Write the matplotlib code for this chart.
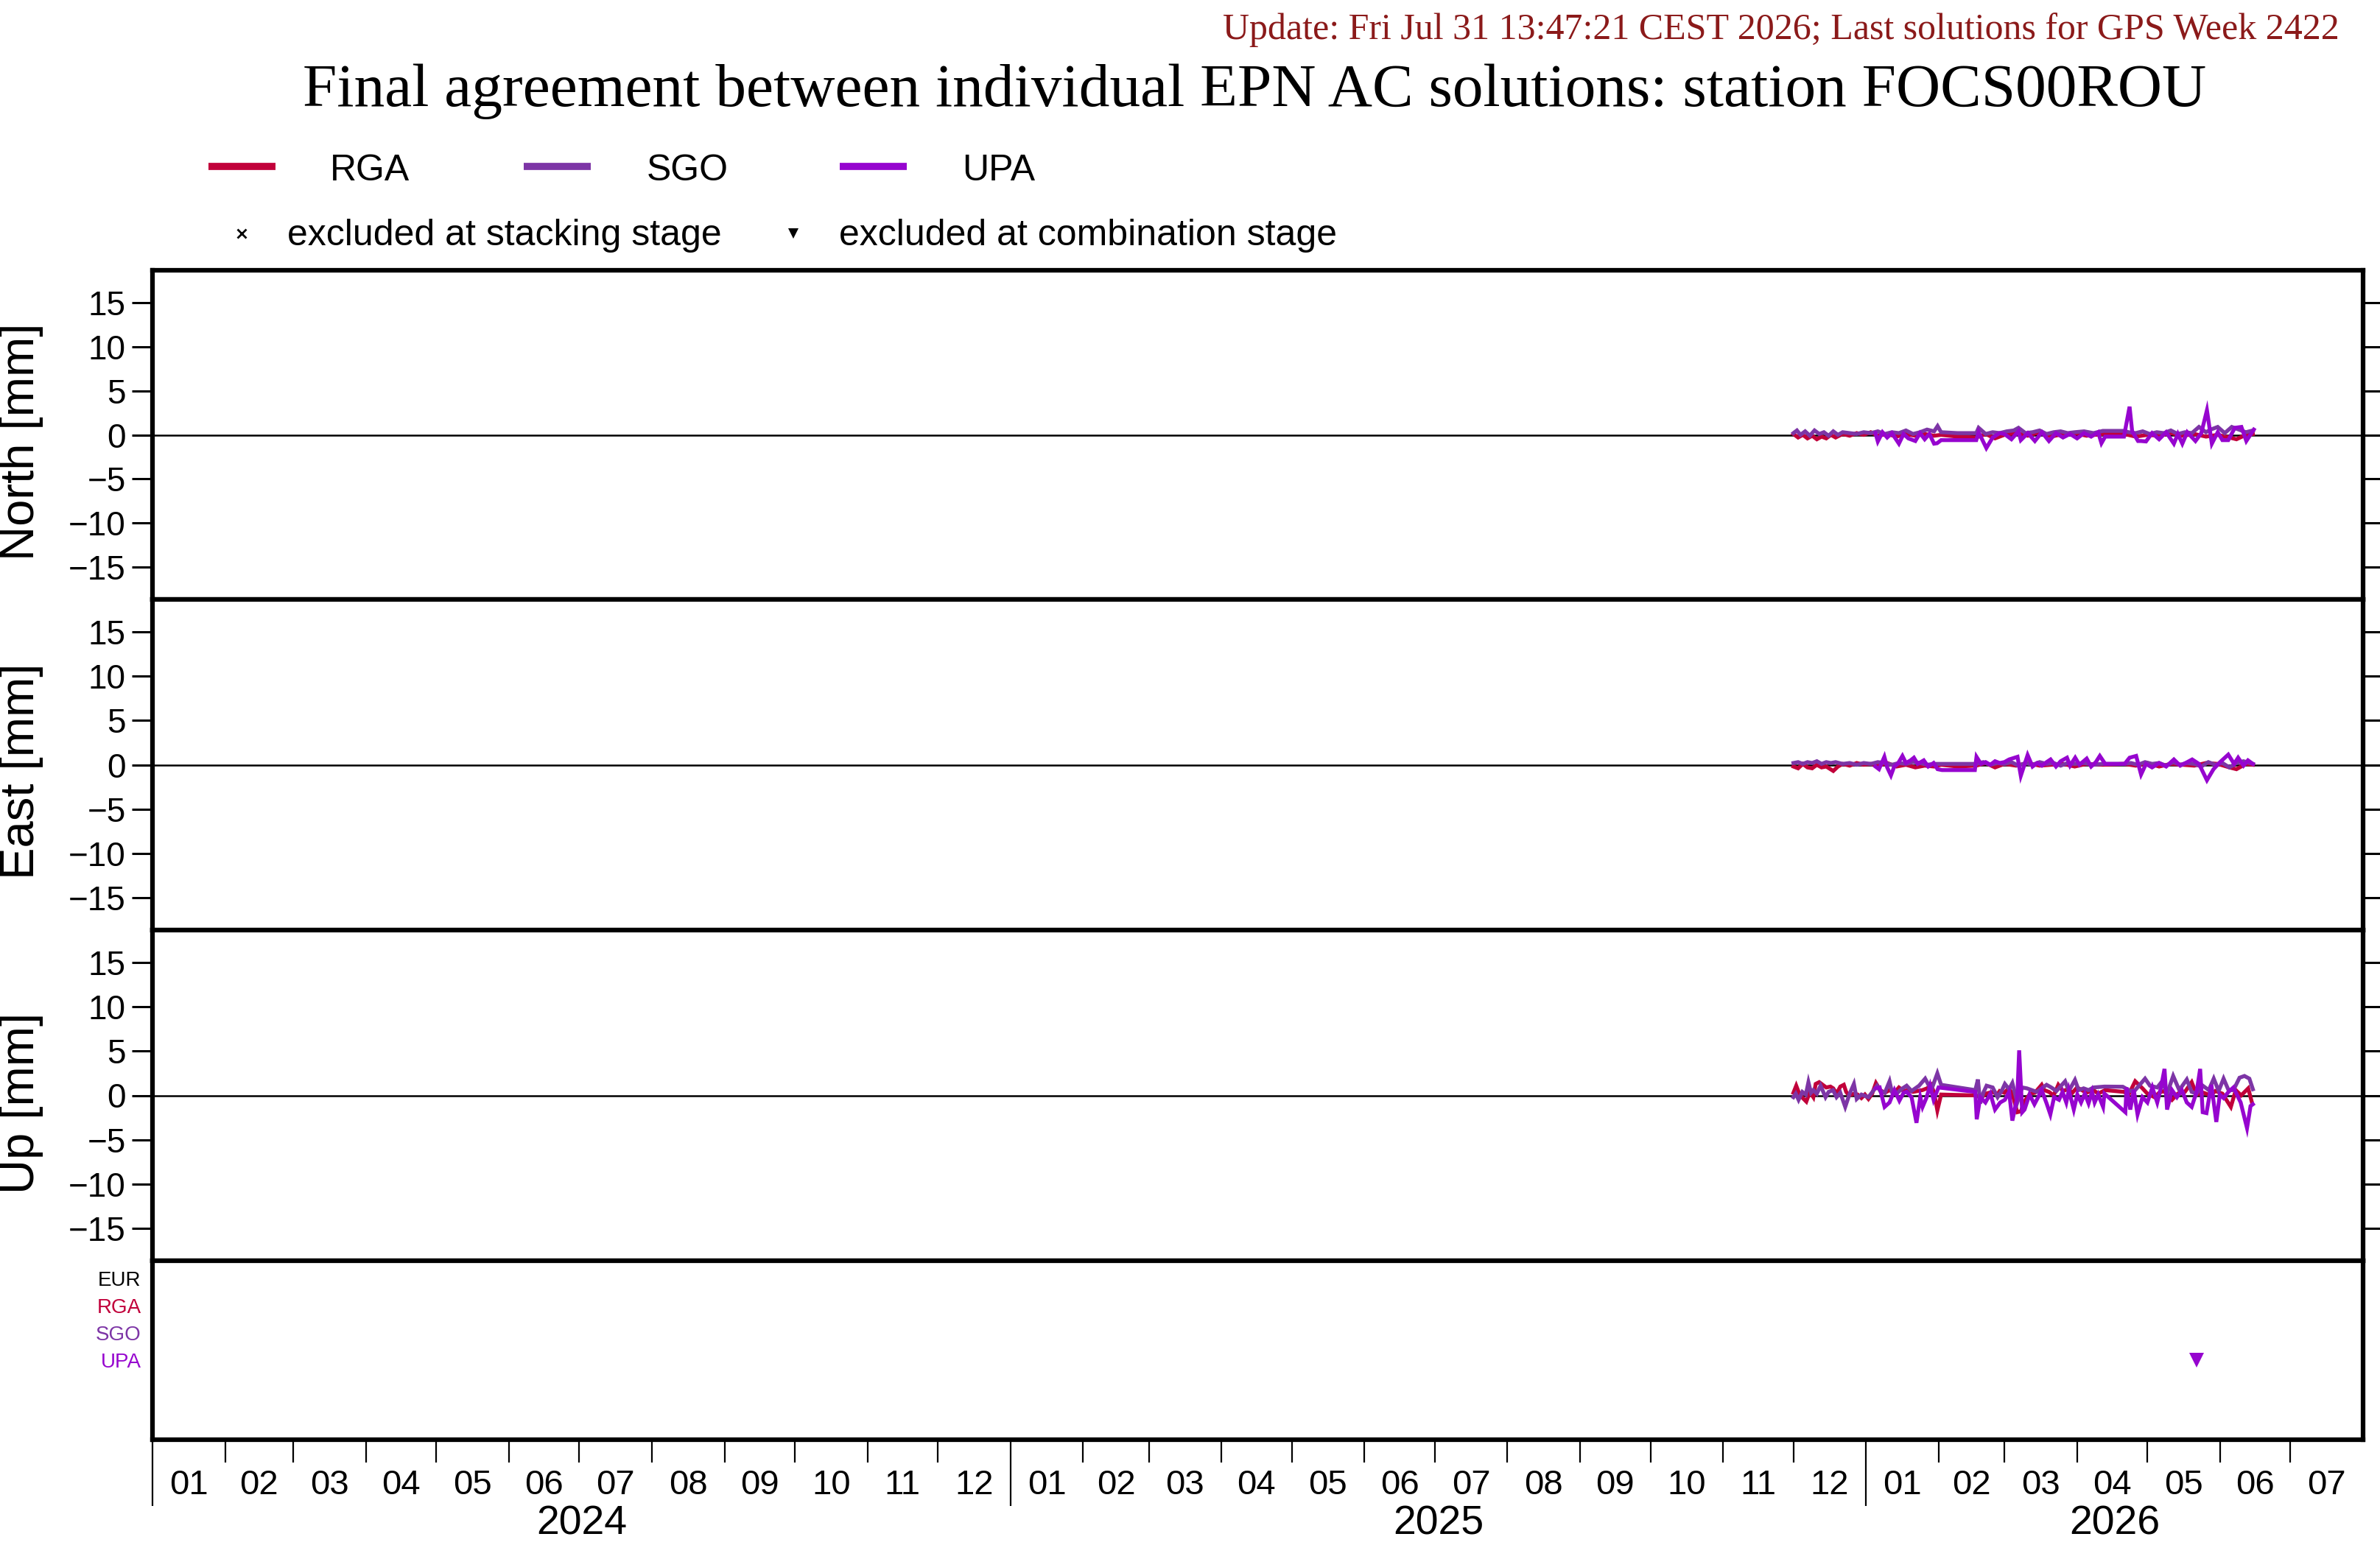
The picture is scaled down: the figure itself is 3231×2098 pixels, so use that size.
import numpy as np
import matplotlib
matplotlib.use("Agg")
import matplotlib.pyplot as plt
import matplotlib.dates as mdates
from matplotlib.lines import Line2D

plt.rcParams["font.family"] = ["Liberation Sans", "DejaVu Sans"]

# === Data (days counted from 2025-12-01, values in mm) ===
start_day = "2025-12-01"
ac_names = ["RGA", "SGO", "UPA"]
ac_colors = ["#C1003A", "#7D35A6", "#9605CF"]

north_rga_days = [0, 2, 4, 6, 8, 10, 12, 14, 16, 18,
                  21, 24, 27, 30, 33, 36, 40, 44, 48, 52,
                  56, 60, 63, 70, 78, 82, 86, 90, 95, 100,
                  105, 110, 115, 120, 125, 132, 141, 146, 151, 156,
                  161, 166, 171, 176, 181, 186, 189, 193, 196]
north_rga = [0.1, -0.3, 0.0, -0.4, -0.1, -0.5, -0.2, -0.4, 0.0, -0.3,
             0.1, -0.1, 0.2, 0.0, 0.3, -0.1, 0.1, -0.2, 0.1, -0.1,
             0.1, -0.1, 0.0, -0.2, -0.3, 0.1, -0.4, 0.0, 0.2, -0.1,
             0.3, -0.2, 0.1, 0.2, -0.1, 0.1, 0.1, -0.2, 0.0, -0.1,
             0.2, -0.1, 0.1, -0.2, 0.0, -0.3, -0.5, 0.0, 0.1]

north_sgo_days = [0, 1.5, 3, 5, 7, 9, 11, 13, 15, 17,
                  19, 21, 24, 27, 30, 33, 36, 39, 42, 45,
                  48, 51, 54, 57, 60, 61.5, 63, 70, 78, 79,
                  82, 85, 88, 91, 94, 96, 99, 102, 105, 108,
                  111, 114, 117, 120, 124, 128, 132, 137, 141, 143,
                  146, 149, 152, 155, 158, 161, 164, 167, 170, 173,
                  176, 178, 181, 184, 187, 190, 193, 196]
north_sgo = [0.2, 0.5, 0.0, 0.4, -0.1, 0.5, 0.1, 0.3, -0.1, 0.4,
             0.0, 0.3, 0.2, 0.1, 0.3, 0.2, 0.4, 0.1, 0.3, 0.2,
             0.5, 0.1, 0.3, 0.6, 0.4, 1.0, 0.3, 0.2, 0.2, 0.8,
             0.1, 0.3, 0.2, 0.4, 0.5, 0.8, 0.2, 0.3, 0.5, 0.1,
             0.3, 0.4, 0.2, 0.3, 0.4, 0.2, 0.45, 0.45, 0.45, 0.3,
             0.2, 0.4, 0.1, 0.3, 0.2, 0.5, 0.1, 0.3, 0.2, 0.9,
             0.3, 0.6, 0.9, 0.2, 0.9, 0.6, 0.3, 0.5]

north_upa_days = [35, 36, 38, 40, 42, 45, 47, 49, 52, 54,
                  56, 58, 60, 61.3, 63, 66, 70, 78, 79, 82.3,
                  85, 88, 90, 93, 96, 97, 100, 103, 106, 109,
                  112, 115, 118, 121, 124, 127, 130, 131.4, 133, 141,
                  143.4, 144.5, 147, 148.3, 150.4, 153, 156, 159, 162.3, 164,
                  165.9, 168, 171.5, 174, 176.4, 178.5, 181, 183, 185.5, 188.3,
                  191.1, 193.2, 196.4]
north_upa = [0.2, -0.75, 0.3, -0.3, 0.2, -1.0, 0.1, -0.4, -0.7, 0.2,
             -0.5, 0.1, -1.0, -0.95, -0.6, -0.6, -0.6, -0.6, 0.3, -1.5,
             -0.3, 0.2, 0.1, -0.5, 0.4, -0.6, 0.2, -0.7, 0.3, -0.7,
             0.2, -0.3, 0.1, -0.4, 0.2, -0.2, 0.3, -0.95, -0.2, -0.2,
             3.2, 0.4, -0.7, -0.7, -0.75, 0.2, -0.5, 0.3, -1.0, 0.1,
             -1.0, 0.3, -0.7, 0.2, 2.8, -1.0, 0.3, -0.6, -0.6, 0.8,
             0.9, -0.7, 0.6]

east_rga_days = [0, 2, 4, 6, 8, 10, 12, 14, 17, 19,
                 21, 24, 27, 30, 33, 36, 40, 44, 48, 52,
                 56, 60, 63, 70, 78, 82, 86, 90, 95, 100,
                 105, 110, 115, 120, 125, 132, 141, 146, 151, 156,
                 161, 166, 171, 176, 181, 186, 189, 193, 196]
east_rga = [-0.2, -0.4, 0.1, -0.3, -0.4, 0.0, -0.3, -0.2, -0.7, -0.2,
            0.1, -0.1, 0.2, 0.0, 0.1, -0.1, 0.2, -0.2, 0.0, -0.3,
            -0.1, -0.2, 0.0, -0.2, -0.1, 0.2, -0.3, 0.1, -0.1, 0.2,
            -0.1, 0.0, 0.1, -0.2, 0.1, 0.0, 0.1, -0.1, 0.2, -0.2,
            0.1, 0.0, -0.1, 0.2, 0.1, -0.3, -0.5, 0.1, 0.0]

east_sgo_days = [0, 2, 4, 6, 8, 10, 12, 14, 16, 18,
                 21, 24, 27, 30, 33, 36, 39, 42, 45, 48,
                 51, 54, 57, 60, 63, 70, 78, 81, 84, 87,
                 90, 93, 96, 99, 102, 105, 108, 111, 114, 117,
                 120, 124, 128, 132, 137, 141, 144, 147, 150, 153,
                 156, 159, 162, 165, 168, 171, 174, 177, 180, 183,
                 186, 189, 192, 196]
east_sgo = [0.2, 0.3, 0.1, 0.3, 0.2, 0.4, 0.1, 0.3, 0.2, 0.3,
            0.1, 0.2, 0.0, 0.2, 0.1, 0.3, 0.2, 0.0, 0.2, 0.1,
            0.3, 0.2, 0.0, 0.1, 0.1, 0.1, 0.1, 0.3, 0.0, 0.2,
            0.1, 0.3, -0.1, 0.2, 0.0, 0.3, 0.1, 0.2, -0.1, 0.2,
            0.1, 0.2, 0.0, 0.1, 0.1, 0.1, 0.2, 0.0, 0.3, 0.1,
            0.2, -0.1, 0.3, 0.0, 0.2, 0.1, -0.2, 0.3, 0.0, 0.2,
            -0.3, 0.2, 0.4, 0.1]

east_upa_days = [35, 36.5, 38.8, 40, 41.6, 43, 44.5, 46.5, 48, 50,
                 51.4, 53, 55.6, 57.5, 59.8, 61.5, 63.4, 66.2, 77.4, 78.1,
                 80, 82, 84, 86, 88, 90, 92, 95.6, 97, 99.9,
                 102, 104, 106, 108, 109.7, 112, 114, 116.7, 118, 120.2,
                 122, 125.1, 127, 129, 130.7, 133, 141.3, 143.4, 146.2, 148.3,
                 150.4, 153, 156, 159, 162.3, 165, 168, 170.1, 173, 176.4,
                 179.2, 182, 185.5, 188, 189.7, 192, 193.9, 196]
east_upa = [-0.2, -0.5, 0.9, -0.3, -1.2, -0.2, 0.1, 1.0, 0.2, 0.5,
            0.8, 0.1, 0.5, -0.2, 0.2, -0.5, -0.6, -0.6, -0.6, 0.9,
            0.1, 0.3, 0.0, 0.4, 0.2, 0.3, 0.6, 0.9, -1.25, 1.1,
            -0.2, 0.2, -0.1, 0.3, 0.6, -0.2, 0.4, 0.8, -0.1, 0.8,
            0.0, 0.7, -0.2, 0.3, 1.0, 0.1, 0.1, 0.8, 1.0, -1.1,
            0.1, -0.3, 0.2, -0.2, 0.6, -0.1, 0.3, 0.6, 0.1, -1.75,
            -0.5, 0.3, 1.15, 0.1, 0.8, -0.1, 0.5, 0.1]

up_rga_days = [0, 1.2, 2.5, 4, 5.5, 7, 8.5, 9.5, 11, 12.5,
               14, 15.8, 17, 18.4, 20, 21.5, 22.5, 23.7, 26, 27.4,
               29, 30.5, 32, 33.6, 35.2, 37, 39, 41, 43, 45,
               47, 49, 51, 53, 55, 57, 58.8, 60, 61.4, 63,
               78, 80, 82, 85, 87, 88, 90, 91.8, 93.4, 95.5,
               97, 99, 101, 103, 105.9, 107, 109, 111, 113, 115,
               117, 119, 121, 123, 125, 128, 130, 133, 141, 143,
               145.8, 148.9, 151, 154, 156, 158, 161.5, 164, 167, 169.9,
               172, 175, 178, 180, 183, 186.6, 188.7, 191, 194, 195.6]
up_rga = [0.3, 1.1, 0.2, -0.3, -0.7, 0.4, -0.2, 1.3, 1.5, 1.2,
          0.9, 1.0, 0.8, 0.2, 1.0, 1.2, 0.4, 0.0, 0.2, 0.1,
          -0.3, 0.1, -0.4, 0.2, 1.4, 0.6, 0.3, 0.6, 0.3, 0.9,
          0.5, 0.6, 0.4, 0.5, 0.6, 0.8, 1.2, 0.3, -1.7, 0.1,
          0.0, -0.3, 0.2, 0.4, 0.1, 0.5, 0.3, 0.8, 0.2, -1.9,
          -1.8, -0.5, 0.2, 0.3, 1.2, 0.6, 0.4, 0.0, 1.2, 0.5,
          0.7, 0.3, 0.9, 0.6, 0.3, 0.6, 0.2, 0.6, 0.4, 0.1,
          1.6, 0.8, 0.2, -0.2, 0.3, 0.5, -0.5, 0.2, 0.4, 1.5,
          0.1, 0.3, 0.0, 0.5, 0.2, -1.3, 0.6, 0.0, 0.8, -0.8]

up_sgo_days = [0, 1, 2.2, 3.8, 5.3, 6.4, 7.5, 8.5, 10, 11.6,
               13.7, 15, 16.9, 18.4, 20, 22.1, 24, 25.8, 27, 29,
               32, 35.7, 37, 39, 41, 42, 44, 46, 48.3, 50.4,
               52, 53.6, 56.2, 58.8, 61.4, 63, 77.6, 78.7, 79.7, 81,
               82.4, 85, 87.1, 89, 90.2, 92, 93.4, 95.5, 97.6, 99.6,
               101.7, 103.8, 105.9, 108, 110, 112.2, 115.9, 117.5, 120.1, 121.7,
               123.8, 125.9, 128, 132.7, 140.5, 143.7, 145.8, 150, 152.1, 155.2,
               157.3, 159.4, 162, 164.6, 167.8, 169.9, 172, 174.1, 177.2, 179.3,
               181.4, 183.5, 185.6, 187.7, 190.3, 192.4, 194.5, 196]
up_sgo = [-0.2, 0.2, -0.5, 0.4, 0.1, 1.5, 0.3, 0.6, 0.2, 1.1,
          -0.2, 0.4, 0.6, -0.2, 0.3, -1.3, 0.2, 1.3, -0.4, 0.1,
          -0.2, 1.1, 0.5, 0.3, 1.6, 0.4, 0.2, 0.7, 1.1, 0.5,
          0.8, 1.1, 1.9, 0.6, 2.5, 1.2, 0.6, 1.8, -0.9, 0.3,
          1.1, 0.9, -0.2, 0.6, 1.3, 0.7, 1.4, -0.8, 0.9, 0.8,
          0.6, 0.4, 0.8, 1.2, 0.9, 0.5, 1.6, 0.5, 1.75, 0.6,
          0.8, 0.6, 0.9, 1.0, 0.98, 0.5, 0.6, 1.9, 1.1, 0.9,
          1.6, 0.2, 2.2, 0.6, 1.8, 0.4, 0.2, 1.2, 0.6, 1.9,
          0.5, 1.9, 0.6, 0.6, 2.0, 2.2, 1.9, 0.7]

up_upa_days = [35.2, 36.8, 38.9, 41, 43.1, 45.2, 47, 48.3, 50.4, 52.5,
               54.1, 55.1, 56.7, 58.3, 59.8, 61.9, 77.6, 78.2, 79.7, 81.9,
               84, 86, 88.2, 90.2, 92, 93.4, 95.5, 96.3, 97.6, 98.6,
               100.7, 102.8, 104.4, 105.9, 108, 109.6, 111.2, 113.3, 114.8, 116.4,
               117.5, 119.6, 121.1, 122.7, 124.3, 125.9, 127.4, 128.5, 130, 132.1,
               132.7, 141.6, 142.1, 143.7, 145.2, 146.8, 148.9, 151, 153.1, 155.2,
               156.8, 158.3, 159.4, 161.5, 163.6, 165.7, 167.8, 169.9, 172, 173.5,
               174.6, 176.2, 178.3, 180.4, 181.9, 183.5, 185.6, 187.7, 190.8, 193.5,
               195, 196]
up_upa = [0.8, 0.9, -1.3, -0.8, 0.6, -0.6, 0.3, 0.4, -0.2, -3.1,
          -0.2, -1.3, -0.3, 1.1, -0.5, 0.9, 0.4, -2.7, -0.2, -0.8,
          0.2, -1.6, -0.8, -0.5, 0.4, -2.85, -0.2, 5.1, -1.9, -1.6,
          0.1, -1.0, -0.2, 0.6, -0.9, -2.15, -0.2, -0.5, 0.4, -0.8,
          0.6, -1.6, 0.1, -0.8, 0.2, -0.9, 0.4, -0.8, 0.1, -1.3,
          0.2, -1.9, 0.9, -1.6, 0.6, -2.15, -0.2, -0.8, 0.9, -0.8,
          0.9, 3.0, -1.6, 0.6, -0.2, 0.6, -0.8, -1.3, 0.4, 3.0,
          -1.9, -2.0, 1.2, -3.0, 0.1, -0.3, 0.4, 0.9, -0.8, -3.7,
          -1.2, -1.0]

# excluded at combination stage (row index in bottom panel: 1=EUR .. 4=UPA)
excl_comb_days = [172]
excl_comb_rows = [4]

panel_names = ["North [mm]", "East [mm]", "Up [mm]"]
y_ticks = [-15, -10, -5, 0, 5, 10, 15]
row_labels = ["EUR", "RGA", "SGO", "UPA"]
row_colors = ["black"] + ac_colors
month_labels = ["01", "02", "03", "04", "05", "06", "07", "08", "09", "10", "11", "12"]

panels = [
    [(north_rga_days, north_rga), (north_sgo_days, north_sgo), (north_upa_days, north_upa)],
    [(east_rga_days, east_rga), (east_sgo_days, east_sgo), (east_upa_days, east_upa)],
    [(up_rga_days, up_rga), (up_sgo_days, up_sgo), (up_upa_days, up_upa)],
]

# === Figure ===
W, H = 3231, 2098
fig = plt.figure(figsize=(W / 100, H / 100), dpi=100)


def fx(x):
    return x / W


def fy(y):
    return 1 - y / H


def rect(top, bottom):
    return [fx(207), fy(bottom), (3208 - 207) / W, (bottom - top) / H]


t_base = mdates.date2num(np.datetime64(start_day))
x_lo = mdates.date2num(np.datetime64("2024-01-01"))
x_hi = mdates.date2num(np.datetime64("2026-08-01"))

bounds = [(367, 814), (814, 1263), (1263, 1712)]
ylab_y = [600, 1047, 1498]
axes = []
for i, (top, bot) in enumerate(bounds):
    ax = fig.add_axes(rect(top, bot))
    for (days, vals), col in zip(panels[i], ac_colors):
        ax.plot(t_base + np.array(days), vals, color=col, lw=3.8, solid_joinstyle="miter")
    ax.axhline(0, color="black", lw=1.8, zorder=1)
    ax.set_xlim(x_lo, x_hi)
    ax.set_ylim(-18.7, 18.7)
    ax.set_yticks(y_ticks)
    ax.set_xticks([])
    ax.tick_params(axis="y", direction="out", length=20, width=2.2,
                   left=True, right=True, labelleft=True, labelsize=33, pad=6)
    for s in ax.spines.values():
        s.set_linewidth(4.5)
    fig.text(fx(29), fy(ylab_y[i]), panel_names[i], rotation=90,
             ha="center", va="center", fontsize=47)
    axes.append(ax)

# bottom panel with exclusions
axb = fig.add_axes(rect(1712, 1955))
axb.set_xlim(x_lo, x_hi)
axb.set_ylim(6.92, 0.34)
axb.plot(t_base + np.array(excl_comb_days), excl_comb_rows, "v",
         color=ac_colors[2], markersize=15, markeredgewidth=0)
axb.set_yticks([1, 2, 3, 4])
axb.set_yticklabels(row_labels)
for lab, col in zip(axb.get_yticklabels(), row_colors):
    lab.set_color(col)
axb.tick_params(axis="y", length=0, labelsize=20, pad=11)
for s in axb.spines.values():
    s.set_linewidth(4.5)

years = [2024, 2025, 2026]
year_starts = [mdates.date2num(np.datetime64(f"{y}-01-01")) for y in years]
month_starts = []
month_mids = []
month_text = []
for y in years:
    for m in range(1, 13):
        a = np.datetime64(f"{y}-{m:02d}")
        b = a + np.timedelta64(1, "M")
        na, nb = mdates.date2num(a.astype("datetime64[D]")), mdates.date2num(b.astype("datetime64[D]"))
        if na >= x_hi:
            break
        month_starts.append(na)
        month_mids.append((na + nb) / 2)
        month_text.append(month_labels[m - 1])

axb.set_xticks(year_starts)
axb.set_xticks([m for m in month_starts if m not in year_starts], minor=True)
axb.tick_params(axis="x", which="major", length=65, width=1.6, labelbottom=False)
axb.tick_params(axis="x", which="minor", length=22, width=1.6, labelbottom=False)

trans = axb.get_xaxis_transform()
for xm, lab in zip(month_mids, month_text):
    axb.text(xm, -0.255, lab, transform=trans, ha="center", va="center",
             fontsize=34, clip_on=False)
for i, y in enumerate(years):
    a = year_starts[i]
    b = year_starts[i + 1] if i + 1 < len(year_starts) else x_hi
    fig.text(axb.transData.transform(((a + b) / 2, 0))[0] / W, fy(2084), str(y),
             ha="center", va="baseline", fontsize=40)

# === Titles ===
fig.text(fx(3176), fy(53), "Update: Fri Jul 31 13:47:21 CEST 2026; Last solutions for GPS Week 2422",
         ha="right", va="baseline", fontsize=36, color="#8B1A1A",
         family=["Liberation Serif", "DejaVu Serif"])
fig.text(fx(1703), fy(144), "Final agreement between individual EPN AC solutions: station FOCS00ROU",
         ha="center", va="baseline", fontsize=60, family=["Liberation Serif", "DejaVu Serif"])

# === Legend ===
leg_line_x = [283, 711, 1140]
leg_text_x = [448, 878, 1306]
for name, col, lx, tx in zip(ac_names, ac_colors, leg_line_x, leg_text_x):
    fig.add_artist(Line2D([fx(lx), fx(lx + 91)], [fy(226), fy(226)], color=col, lw=7,
                          solid_capstyle="butt"))
    fig.text(fx(tx), fy(245), name, ha="left", va="baseline", fontsize=36)

fig.add_artist(Line2D([fx(328)], [fy(317)], marker="x", color="black", markersize=9, mew=2))
fig.text(fx(390), fy(333), "excluded at stacking stage", ha="left", va="baseline", fontsize=36)
fig.add_artist(Line2D([fx(1077)], [fy(317)], marker="v", color="black", markersize=10, mew=0))
fig.text(fx(1139), fy(333), "excluded at combination stage", ha="left", va="baseline", fontsize=36)

fig.savefig("out.png", dpi=100)
